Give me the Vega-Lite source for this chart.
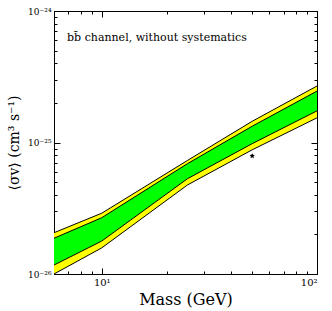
{
  "$schema": "https://vega.github.io/schema/vega-lite/v6.json",
  "width": 263,
  "height": 263,
  "autosize": {"type": "none"},
  "padding": {"left": 54, "top": 11, "right": 15, "bottom": 37},
  "background": "white",
  "config": {
    "view": {"stroke": "black", "strokeWidth": 1},
    "font": "DejaVu Serif",
    "axis": {
      "grid": false,
      "domainColor": "black",
      "tickColor": "black",
      "labelColor": "black",
      "titleColor": "black",
      "labelFont": "DejaVu Serif",
      "titleFont": "DejaVu Serif",
      "titleFontWeight": "normal"
    }
  },
  "datasets": {
    "band": [
      {"mass": 6, "lo2": 1.0e-26, "lo1": 1.17e-26, "hi1": 1.87e-26, "hi2": 2.06e-26},
      {"mass": 10, "lo2": 1.58e-26, "lo1": 1.78e-26, "hi1": 2.68e-26, "hi2": 2.9e-26},
      {"mass": 25, "lo2": 4.75e-26, "lo1": 5.3e-26, "hi1": 6.9e-26, "hi2": 7.3e-26},
      {"mass": 50, "lo2": 8.8e-26, "lo1": 9.8e-26, "hi1": 1.33e-25, "hi2": 1.45e-25},
      {"mass": 100, "lo2": 1.54e-25, "lo1": 1.74e-25, "hi1": 2.46e-25, "hi2": 2.69e-25}
    ],
    "obs": [{"mass": 50, "sv": 7.9e-26}],
    "label": [{"mass": 6.9, "sv": 6.2e-25, "txt": "bb̄ channel, without systematics"}]
  },
  "data": {"name": "band"},
  "layer": [
    {
      "mark": {"type": "area", "color": "#ffff00", "clip": true},
      "encoding": {
        "x": {"field": "mass", "type": "quantitative",
          "scale": {"type": "log", "domain": [6, 100], "nice": false},
          "axis": {"orient": "bottom", "values": [10, 100], "tickSize": -6, "labelPadding": 9,
            "labelExpr": "datum.value < 50 ? '10¹' : '10²'", "labelFontSize": 10,
            "title": "Mass (GeV)", "titleFontSize": 16, "titlePadding": 4}},
        "y": {"field": "lo2", "type": "quantitative",
          "scale": {"type": "log", "domain": [1e-26, 1e-24], "nice": false},
          "axis": {"orient": "left", "values": [1e-26, 1e-25, 1e-24], "tickSize": -6, "labelPadding": 9,
            "labelExpr": "datum.value < 5e-26 ? '10⁻²⁶' : datum.value < 5e-25 ? '10⁻²⁵' : '10⁻²⁴'",
            "labelFontSize": 9,
            "title": "⟨σv⟩ (cm³ s⁻¹)", "titleFontSize": 14, "titlePadding": 6}},
        "y2": {"field": "hi2"}
      }
    },
    {
      "mark": {"type": "area", "color": "#00ff00", "clip": true},
      "encoding": {
        "x": {"field": "mass", "type": "quantitative",
          "axis": {"orient": "bottom", "values": [6, 7, 8, 9, 20, 30, 40, 50, 60, 70, 80, 90], "tickSize": -3,
            "labels": false, "domain": false, "title": null}},
        "y": {"field": "lo1", "type": "quantitative",
          "axis": {"orient": "left", "values": [2e-26, 3e-26, 4e-26, 5e-26, 6e-26, 7e-26, 8e-26, 9e-26, 2e-25, 3e-25, 4e-25, 5e-25, 6e-25, 7e-25, 8e-25, 9e-25],
            "tickSize": -3, "labels": false, "domain": false, "title": null}},
        "y2": {"field": "hi1"}
      }
    },
    {
      "mark": {"type": "line", "color": "black", "strokeWidth": 1, "clip": true},
      "encoding": {
        "x": {"field": "mass", "type": "quantitative",
          "axis": {"orient": "top", "values": [10, 100], "tickSize": -6, "labels": false, "title": null}},
        "y": {"field": "hi2", "type": "quantitative",
          "axis": {"orient": "right", "values": [1e-26, 1e-25, 1e-24], "tickSize": -6, "labels": false, "title": null}}
      }
    },
    {
      "mark": {"type": "line", "color": "black", "strokeWidth": 1, "clip": true},
      "encoding": {
        "x": {"field": "mass", "type": "quantitative",
          "axis": {"orient": "top", "values": [6, 7, 8, 9, 20, 30, 40, 50, 60, 70, 80, 90], "tickSize": -3,
            "labels": false, "domain": false, "title": null}},
        "y": {"field": "hi1", "type": "quantitative",
          "axis": {"orient": "right", "values": [2e-26, 3e-26, 4e-26, 5e-26, 6e-26, 7e-26, 8e-26, 9e-26, 2e-25, 3e-25, 4e-25, 5e-25, 6e-25, 7e-25, 8e-25, 9e-25],
            "tickSize": -3, "labels": false, "domain": false, "title": null}}
      }
    },
    {
      "mark": {"type": "line", "color": "black", "strokeWidth": 1, "clip": true},
      "encoding": {
        "x": {"field": "mass", "type": "quantitative", "axis": null},
        "y": {"field": "lo1", "type": "quantitative", "axis": null}
      }
    },
    {
      "mark": {"type": "line", "color": "black", "strokeWidth": 1, "clip": true},
      "encoding": {
        "x": {"field": "mass", "type": "quantitative", "axis": null},
        "y": {"field": "lo2", "type": "quantitative", "axis": null}
      }
    },
    {
      "data": {"name": "obs"},
      "mark": {"type": "point", "filled": true, "color": "black", "opacity": 1, "size": 30,
        "shape": "M0,-1L0.29,-0.4L0.95,-0.31L0.48,0.15L0.59,0.81L0,0.5L-0.59,0.81L-0.48,0.15L-0.95,-0.31L-0.29,-0.4Z"},
      "encoding": {
        "x": {"field": "mass", "type": "quantitative", "axis": null},
        "y": {"field": "sv", "type": "quantitative", "axis": null}
      }
    },
    {
      "data": {"name": "label"},
      "mark": {"type": "text", "align": "left", "baseline": "middle", "font": "DejaVu Serif", "fontSize": 11, "color": "black"},
      "encoding": {
        "x": {"field": "mass", "type": "quantitative", "axis": null},
        "y": {"field": "sv", "type": "quantitative", "axis": null},
        "text": {"field": "txt"}
      }
    }
  ],
  "resolve": {"axis": {"x": "independent", "y": "independent"}}
}
